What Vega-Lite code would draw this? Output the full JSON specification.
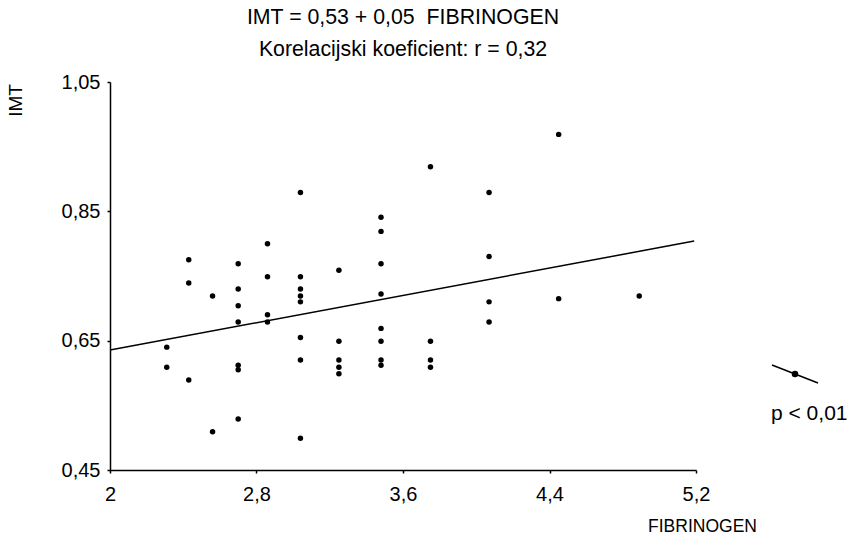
{
  "$schema": "https://vega.github.io/schema/vega-lite/v6.json",
  "width": 586,
  "height": 388,
  "autosize": {"type": "none"},
  "padding": {"left": 110, "top": 82, "right": 152, "bottom": 69},
  "background": "white",
  "config": {
    "view": {"stroke": null},
    "font": "Liberation Sans",
    "axis": {
      "grid": false,
      "domainColor": "black",
      "domainWidth": 1.5,
      "tickColor": "black",
      "tickSize": 3,
      "tickWidth": 1.5,
      "labelColor": "black",
      "labelFontSize": 20,
      "labelFont": "Liberation Sans",
      "titleColor": "black",
      "titleFont": "Liberation Sans",
      "titleFontWeight": "normal",
      "labelFlush": false,
      "labelOverlap": false
    }
  },
  "title": {
    "text": ["IMT = 0,53 + 0,05\u00a0 FIBRINOGEN", "Korelacijski koeficient: r = 0,32"],
    "fontSize": 21.3,
    "fontWeight": "normal",
    "font": "Liberation Sans",
    "color": "black",
    "anchor": "middle",
    "frame": "group",
    "lineHeight": 32,
    "offset": 12
  },
  "datasets": {
    "measurements": [
      {"FIBRINOGEN": 2.31, "IMT": 0.640},
      {"FIBRINOGEN": 2.31, "IMT": 0.609},
      {"FIBRINOGEN": 2.43, "IMT": 0.775},
      {"FIBRINOGEN": 2.43, "IMT": 0.739},
      {"FIBRINOGEN": 2.43, "IMT": 0.589},
      {"FIBRINOGEN": 2.56, "IMT": 0.719},
      {"FIBRINOGEN": 2.56, "IMT": 0.509},
      {"FIBRINOGEN": 2.70, "IMT": 0.769},
      {"FIBRINOGEN": 2.70, "IMT": 0.730},
      {"FIBRINOGEN": 2.70, "IMT": 0.704},
      {"FIBRINOGEN": 2.70, "IMT": 0.679},
      {"FIBRINOGEN": 2.70, "IMT": 0.612},
      {"FIBRINOGEN": 2.70, "IMT": 0.605},
      {"FIBRINOGEN": 2.70, "IMT": 0.529},
      {"FIBRINOGEN": 2.86, "IMT": 0.800},
      {"FIBRINOGEN": 2.86, "IMT": 0.749},
      {"FIBRINOGEN": 2.86, "IMT": 0.690},
      {"FIBRINOGEN": 2.86, "IMT": 0.679},
      {"FIBRINOGEN": 3.04, "IMT": 0.879},
      {"FIBRINOGEN": 3.04, "IMT": 0.749},
      {"FIBRINOGEN": 3.04, "IMT": 0.730},
      {"FIBRINOGEN": 3.04, "IMT": 0.719},
      {"FIBRINOGEN": 3.04, "IMT": 0.710},
      {"FIBRINOGEN": 3.04, "IMT": 0.655},
      {"FIBRINOGEN": 3.04, "IMT": 0.620},
      {"FIBRINOGEN": 3.04, "IMT": 0.499},
      {"FIBRINOGEN": 3.25, "IMT": 0.759},
      {"FIBRINOGEN": 3.25, "IMT": 0.649},
      {"FIBRINOGEN": 3.25, "IMT": 0.620},
      {"FIBRINOGEN": 3.25, "IMT": 0.609},
      {"FIBRINOGEN": 3.25, "IMT": 0.599},
      {"FIBRINOGEN": 3.48, "IMT": 0.841},
      {"FIBRINOGEN": 3.48, "IMT": 0.819},
      {"FIBRINOGEN": 3.48, "IMT": 0.769},
      {"FIBRINOGEN": 3.48, "IMT": 0.722},
      {"FIBRINOGEN": 3.48, "IMT": 0.669},
      {"FIBRINOGEN": 3.48, "IMT": 0.649},
      {"FIBRINOGEN": 3.48, "IMT": 0.620},
      {"FIBRINOGEN": 3.48, "IMT": 0.612},
      {"FIBRINOGEN": 3.75, "IMT": 0.919},
      {"FIBRINOGEN": 3.75, "IMT": 0.649},
      {"FIBRINOGEN": 3.75, "IMT": 0.620},
      {"FIBRINOGEN": 3.75, "IMT": 0.609},
      {"FIBRINOGEN": 4.07, "IMT": 0.879},
      {"FIBRINOGEN": 4.07, "IMT": 0.780},
      {"FIBRINOGEN": 4.07, "IMT": 0.710},
      {"FIBRINOGEN": 4.07, "IMT": 0.679},
      {"FIBRINOGEN": 4.45, "IMT": 0.969},
      {"FIBRINOGEN": 4.45, "IMT": 0.715},
      {"FIBRINOGEN": 4.89, "IMT": 0.719}
    ],
    "regression": [
      {"FIBRINOGEN": 2.0, "IMT": 0.6355},
      {"FIBRINOGEN": 5.19, "IMT": 0.804}
    ]
  },
  "layer": [
    {
      "data": {"name": "measurements"},
      "mark": {"type": "point", "filled": true, "size": 30, "opacity": 1},
      "encoding": {
        "x": {
          "field": "FIBRINOGEN",
          "type": "quantitative",
          "scale": {"domain": [2, 5.2], "nice": false, "zero": false},
          "axis": {
            "values": [2, 2.8, 3.6, 4.4, 5.2],
            "labelExpr": "replace(format(datum.value, '~g'), '.', ',')",
            "labelPadding": 11,
            "title": "FIBRINOGEN",
            "titleFontSize": 17.5,
            "titleX": 592,
            "titleY": 56,
            "titleAlign": "center",
            "titleBaseline": "middle"
          }
        },
        "y": {
          "field": "IMT",
          "type": "quantitative",
          "scale": {"domain": [0.45, 1.05], "nice": false, "zero": false},
          "axis": {
            "values": [0.45, 0.65, 0.85, 1.05],
            "labelExpr": "replace(format(datum.value, '.2f'), '.', ',')",
            "labelPadding": 7,
            "title": "IMT",
            "titleFontSize": 19,
            "titleAngle": 270,
            "titleX": -95,
            "titleY": 18,
            "titleAlign": "center",
            "titleBaseline": "middle"
          }
        },
        "color": {
          "datum": "p < 0,01",
          "scale": {"range": ["black"]},
          "legend": {
            "orient": "none",
            "legendX": 661,
            "legendY": 268,
            "symbolType": "M-1,-0.39L1,0.39M0.11,0A0.11,0.11,0,1,1,-0.11,0A0.11,0.11,0,1,1,0.11,0Z",
            "symbolSize": 2116,
            "symbolStrokeColor": "black",
            "symbolStrokeWidth": 1.5,
            "symbolFillColor": "black",
            "symbolOpacity": 1,
            "labelExpr": "''",
            "labelOffset": 0,
            "title": "p < 0,01",
            "titleOrient": "bottom",
            "titleAnchor": "start",
            "titleFontSize": 21,
            "titleFontWeight": "normal",
            "titleColor": "black",
            "titleFont": "Liberation Sans",
            "titlePadding": 17,
            "titleLimit": 200
          }
        }
      }
    },
    {
      "data": {"name": "regression"},
      "mark": {"type": "line", "color": "black", "strokeWidth": 1.5},
      "encoding": {
        "x": {"field": "FIBRINOGEN", "type": "quantitative"},
        "y": {"field": "IMT", "type": "quantitative"}
      }
    }
  ]
}
